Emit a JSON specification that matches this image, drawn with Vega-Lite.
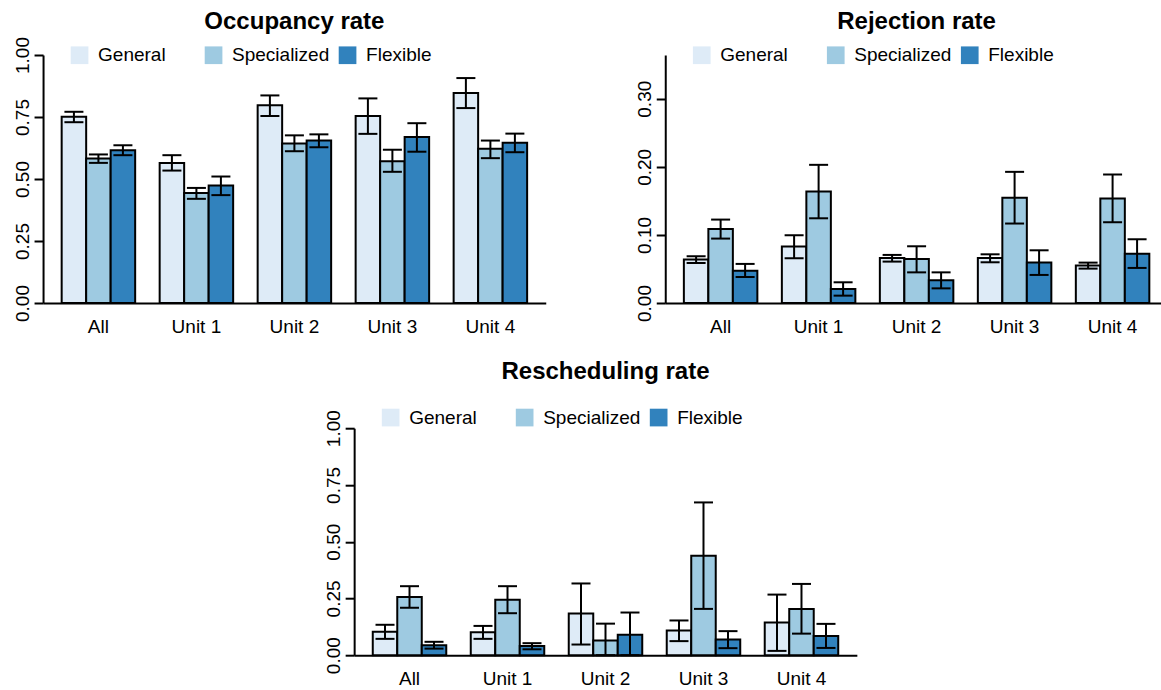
{
  "$schema": "https://vega.github.io/schema/vega-lite/v6.json",
  "padding": {"left": 13, "top": 9, "right": 0, "bottom": 0},
  "config": {
    "font": "Liberation Sans",
    "view": {"stroke": null},
    "axis": {"domainColor": "black", "domainWidth": 2, "tickColor": "black", "tickWidth": 2, "labelColor": "black", "labelFontSize": 19, "grid": false, "title": null, "labelFont": "Liberation Sans"},
    "legend": {"orient": "none", "legendX": 27, "legendY": -9.5, "direction": "horizontal", "columns": 3, "gridAlign": "all", "columnPadding": 8, "labelFontSize": 19, "labelColor": "black", "labelOffset": 9, "labelLimit": 300, "symbolType": "square", "symbolSize": 313, "symbolStrokeWidth": 0, "symbolOpacity": 1, "title": null, "labelFont": "Liberation Sans"},
    "title": {"fontSize": 24, "fontWeight": "bold", "color": "black", "anchor": "middle", "frame": "group", "baseline": "alphabetic", "font": "Liberation Sans"}
  },
  "data": {"values": [
    {"panel": "O", "group": "All", "type": "General", "value": 0.751, "lo": 0.729, "hi": 0.771},
    {"panel": "O", "group": "All", "type": "Specialized", "value": 0.583, "lo": 0.565, "hi": 0.599},
    {"panel": "O", "group": "All", "type": "Flexible", "value": 0.616, "lo": 0.596, "hi": 0.636},
    {"panel": "O", "group": "Unit 1", "type": "General", "value": 0.565, "lo": 0.534, "hi": 0.596},
    {"panel": "O", "group": "Unit 1", "type": "Specialized", "value": 0.444, "lo": 0.420, "hi": 0.464},
    {"panel": "O", "group": "Unit 1", "type": "Flexible", "value": 0.474, "lo": 0.435, "hi": 0.510},
    {"panel": "O", "group": "Unit 2", "type": "General", "value": 0.797, "lo": 0.754, "hi": 0.837},
    {"panel": "O", "group": "Unit 2", "type": "Specialized", "value": 0.643, "lo": 0.612, "hi": 0.676},
    {"panel": "O", "group": "Unit 2", "type": "Flexible", "value": 0.655, "lo": 0.628, "hi": 0.680},
    {"panel": "O", "group": "Unit 3", "type": "General", "value": 0.754, "lo": 0.682, "hi": 0.825},
    {"panel": "O", "group": "Unit 3", "type": "Specialized", "value": 0.572, "lo": 0.529, "hi": 0.618},
    {"panel": "O", "group": "Unit 3", "type": "Flexible", "value": 0.669, "lo": 0.610, "hi": 0.725},
    {"panel": "O", "group": "Unit 4", "type": "General", "value": 0.847, "lo": 0.786, "hi": 0.907},
    {"panel": "O", "group": "Unit 4", "type": "Specialized", "value": 0.622, "lo": 0.584, "hi": 0.655},
    {"panel": "O", "group": "Unit 4", "type": "Flexible", "value": 0.646, "lo": 0.608, "hi": 0.683},
    {"panel": "R", "group": "All", "type": "General", "value": 0.0637, "lo": 0.0588, "hi": 0.0686},
    {"panel": "R", "group": "All", "type": "Specialized", "value": 0.1088, "lo": 0.0946, "hi": 0.1225},
    {"panel": "R", "group": "All", "type": "Flexible", "value": 0.0475, "lo": 0.0382, "hi": 0.0574},
    {"panel": "R", "group": "Unit 1", "type": "General", "value": 0.0828, "lo": 0.0656, "hi": 0.0994},
    {"panel": "R", "group": "Unit 1", "type": "Specialized", "value": 0.1637, "lo": 0.1244, "hi": 0.2029},
    {"panel": "R", "group": "Unit 1", "type": "Flexible", "value": 0.0206, "lo": 0.0108, "hi": 0.0304},
    {"panel": "R", "group": "Unit 2", "type": "General", "value": 0.0662, "lo": 0.0608, "hi": 0.0706},
    {"panel": "R", "group": "Unit 2", "type": "Specialized", "value": 0.0647, "lo": 0.045, "hi": 0.0833},
    {"panel": "R", "group": "Unit 2", "type": "Flexible", "value": 0.0333, "lo": 0.0215, "hi": 0.045},
    {"panel": "R", "group": "Unit 3", "type": "General", "value": 0.066, "lo": 0.0598, "hi": 0.0715},
    {"panel": "R", "group": "Unit 3", "type": "Specialized", "value": 0.1544, "lo": 0.1167, "hi": 0.1926},
    {"panel": "R", "group": "Unit 3", "type": "Flexible", "value": 0.0593, "lo": 0.0412, "hi": 0.0774},
    {"panel": "R", "group": "Unit 4", "type": "General", "value": 0.0549, "lo": 0.0505, "hi": 0.0593},
    {"panel": "R", "group": "Unit 4", "type": "Specialized", "value": 0.1534, "lo": 0.1186, "hi": 0.1887},
    {"panel": "R", "group": "Unit 4", "type": "Flexible", "value": 0.0725, "lo": 0.0515, "hi": 0.0936},
    {"panel": "S", "group": "All", "type": "General", "value": 0.103, "lo": 0.072, "hi": 0.134},
    {"panel": "S", "group": "All", "type": "Specialized", "value": 0.256, "lo": 0.209, "hi": 0.304},
    {"panel": "S", "group": "All", "type": "Flexible", "value": 0.044, "lo": 0.029, "hi": 0.059},
    {"panel": "S", "group": "Unit 1", "type": "General", "value": 0.101, "lo": 0.072, "hi": 0.129},
    {"panel": "S", "group": "Unit 1", "type": "Specialized", "value": 0.244, "lo": 0.185, "hi": 0.304},
    {"panel": "S", "group": "Unit 1", "type": "Flexible", "value": 0.040, "lo": 0.026, "hi": 0.053},
    {"panel": "S", "group": "Unit 2", "type": "General", "value": 0.184, "lo": 0.047, "hi": 0.316},
    {"panel": "S", "group": "Unit 2", "type": "Specialized", "value": 0.065, "lo": 0.0, "hi": 0.139},
    {"panel": "S", "group": "Unit 2", "type": "Flexible", "value": 0.090, "lo": 0.0, "hi": 0.188},
    {"panel": "S", "group": "Unit 3", "type": "General", "value": 0.109, "lo": 0.062, "hi": 0.153},
    {"panel": "S", "group": "Unit 3", "type": "Specialized", "value": 0.438, "lo": 0.204, "hi": 0.673},
    {"panel": "S", "group": "Unit 3", "type": "Flexible", "value": 0.069, "lo": 0.031, "hi": 0.106},
    {"panel": "S", "group": "Unit 4", "type": "General", "value": 0.144, "lo": 0.019, "hi": 0.267},
    {"panel": "S", "group": "Unit 4", "type": "Specialized", "value": 0.204, "lo": 0.095, "hi": 0.314},
    {"panel": "S", "group": "Unit 4", "type": "Flexible", "value": 0.085, "lo": 0.032, "hi": 0.138}
  ]},
  "center": true,
  "spacing": 23.2,
  "resolve": {"legend": {"color": "independent"}},
  "vconcat": [
    {
      "bounds": "flush",
      "spacing": 119.2,
      "resolve": {"legend": {"color": "independent"}},
      "hconcat": [
        {
          "width": 502.7, "height": 248,
          "title": {"text": "Occupancy rate", "offset": 3},
          "transform": [{"filter": "datum.panel === 'O'"}],
          "encoding": {
            "x": {"field": "group", "type": "nominal", "sort": ["All", "Unit 1", "Unit 2", "Unit 3", "Unit 4"], "scale": {"paddingInner": 0.25, "paddingOuter": 0.19}, "axis": {"labelAngle": 0, "ticks": false, "tickSize": 0, "labelPadding": 29, "labelBaseline": "alphabetic"}},
            "xOffset": {"field": "type", "type": "nominal", "sort": ["General", "Specialized", "Flexible"], "scale": {"paddingInner": 0, "paddingOuter": 0}}
          },
          "layer": [
            {"mark": {"type": "bar", "stroke": "black", "strokeWidth": 2},
             "encoding": {
               "y": {"field": "value", "type": "quantitative", "scale": {"domain": [0, 1], "nice": false}, "axis": {"values": [0, 0.25, 0.5, 0.75, 1], "format": ".2f", "tickSize": 9, "labelAngle": -90, "labelAlign": "center", "labelBaseline": "alphabetic", "labelPadding": 6, "labelFlush": false, "labelOverlap": false}},
               "color": {"field": "type", "type": "nominal", "sort": ["General", "Specialized", "Flexible"], "scale": {"domain": ["General", "Specialized", "Flexible"], "range": ["#deebf7", "#9ecae1", "#3182bd"]}}
             }},
            {"mark": {"type": "rule", "color": "black", "strokeWidth": 2}, "encoding": {"y": {"field": "lo", "type": "quantitative"}, "y2": {"field": "hi"}}},
            {"mark": {"type": "tick", "color": "black", "thickness": 2, "size": 19, "opacity": 1}, "encoding": {"y": {"field": "lo", "type": "quantitative"}}},
            {"mark": {"type": "tick", "color": "black", "thickness": 2, "size": 19, "opacity": 1}, "encoding": {"y": {"field": "hi", "type": "quantitative"}}}
          ]
        },
        {
          "width": 502.7, "height": 248,
          "title": {"text": "Rejection rate", "offset": 12},
          "transform": [{"filter": "datum.panel === 'R'"}],
          "encoding": {
            "x": {"field": "group", "type": "nominal", "sort": ["All", "Unit 1", "Unit 2", "Unit 3", "Unit 4"], "scale": {"paddingInner": 0.25, "paddingOuter": 0.19}, "axis": {"labelAngle": 0, "ticks": false, "tickSize": 0, "labelPadding": 29, "labelBaseline": "alphabetic"}},
            "xOffset": {"field": "type", "type": "nominal", "sort": ["General", "Specialized", "Flexible"], "scale": {"paddingInner": 0, "paddingOuter": 0}}
          },
          "layer": [
            {"mark": {"type": "bar", "stroke": "black", "strokeWidth": 2},
             "encoding": {
               "y": {"field": "value", "type": "quantitative", "scale": {"domain": [0, 0.3642], "nice": false}, "axis": {"values": [0, 0.05, 0.1, 0.15, 0.2, 0.25, 0.3, 0.35], "labelExpr": "round(datum.value * 100) % 10 === 0 ? format(datum.value, '.2f') : ''", "tickSize": 9, "labelAngle": -90, "labelAlign": "center", "labelBaseline": "alphabetic", "labelPadding": 6, "labelFlush": false, "labelOverlap": false}},
               "color": {"field": "type", "type": "nominal", "sort": ["General", "Specialized", "Flexible"], "scale": {"domain": ["General", "Specialized", "Flexible"], "range": ["#deebf7", "#9ecae1", "#3182bd"]}}
             }},
            {"mark": {"type": "rule", "color": "black", "strokeWidth": 2}, "encoding": {"y": {"field": "lo", "type": "quantitative"}, "y2": {"field": "hi"}}},
            {"mark": {"type": "tick", "color": "black", "thickness": 2, "size": 19, "opacity": 1}, "encoding": {"y": {"field": "lo", "type": "quantitative"}}},
            {"mark": {"type": "tick", "color": "black", "thickness": 2, "size": 19, "opacity": 1}, "encoding": {"y": {"field": "hi", "type": "quantitative"}}}
          ]
        }
      ]
    },
    {
      "width": 502.7, "height": 227,
      "title": {"text": "Rescheduling rate", "offset": 24},
      "transform": [{"filter": "datum.panel === 'S'"}],
      "encoding": {
        "x": {"field": "group", "type": "nominal", "sort": ["All", "Unit 1", "Unit 2", "Unit 3", "Unit 4"], "scale": {"paddingInner": 0.25, "paddingOuter": 0.19}, "axis": {"labelAngle": 0, "ticks": false, "tickSize": 0, "labelPadding": 29, "labelBaseline": "alphabetic"}},
        "xOffset": {"field": "type", "type": "nominal", "sort": ["General", "Specialized", "Flexible"], "scale": {"paddingInner": 0, "paddingOuter": 0}}
      },
      "layer": [
        {"mark": {"type": "bar", "stroke": "black", "strokeWidth": 2},
         "encoding": {
           "y": {"field": "value", "type": "quantitative", "scale": {"domain": [0, 1], "nice": false}, "axis": {"values": [0, 0.25, 0.5, 0.75, 1], "format": ".2f", "tickSize": 9, "labelAngle": -90, "labelAlign": "center", "labelBaseline": "alphabetic", "labelPadding": 6, "labelFlush": false, "labelOverlap": false}},
           "color": {"field": "type", "type": "nominal", "sort": ["General", "Specialized", "Flexible"], "scale": {"domain": ["General", "Specialized", "Flexible"], "range": ["#deebf7", "#9ecae1", "#3182bd"]}, "legend": {"legendY": -20.4}}
         }},
        {"mark": {"type": "rule", "color": "black", "strokeWidth": 2}, "encoding": {"y": {"field": "lo", "type": "quantitative"}, "y2": {"field": "hi"}}},
        {"mark": {"type": "tick", "color": "black", "thickness": 2, "size": 19, "opacity": 1}, "encoding": {"y": {"field": "lo", "type": "quantitative"}}},
        {"mark": {"type": "tick", "color": "black", "thickness": 2, "size": 19, "opacity": 1}, "encoding": {"y": {"field": "hi", "type": "quantitative"}}}
      ]
    }
  ]
}
